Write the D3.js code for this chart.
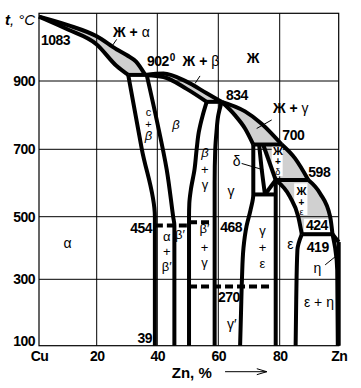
<!DOCTYPE html>
<html>
<head>
<meta charset="utf-8">
<script src="https://cdn.jsdelivr.net/npm/d3@7"></script>
<style>
  body { margin: 0; background: #fff; }
  text { font-family: "Liberation Sans", Arial, sans-serif; fill: #000; white-space: pre; }
</style>
</head>
<body>
<div id="chart"></div>
<script>
// axes
const xTickValues = [0, 20, 40, 60, 80, 100];
const xTickLabels = ["Cu", "20", "40", "60", "80", "Zn"];
const yTickValues = [900, 700, 500, 300, 100];
const xGrid = [20, 40, 60, 80];
const yGrid = [900, 700, 500, 300];

// phase boundaries as [Zn %, t °C]
const liquidusAlpha = [[0, 1090], [10, 1065], [20, 1032], [26.5, 994], [30, 976], [33, 957], [36, 918]];
const solidusAlpha = [[0, 1090], [10, 1052], [20, 1008], [26.5, 945], [30.4, 918]];
const liquidusBeta = [[36, 918], [42, 922], [49.6, 898], [56.2, 864], [61.1, 839]];
const solidusBeta = [[36.5, 917], [42, 912], [49.6, 877], [56.2, 839]];
const liquidusGamma = [[61.1, 839], [68.7, 811], [74.1, 775], [80.7, 714]];
const solidusGamma = [[61.1, 839], [65.4, 800], [68.7, 761], [71.4, 714]];
const liquidusDelta = [[80.7, 714], [85.2, 673], [89.7, 609]];
const liquidusEps = [[89.7, 609], [93.7, 569], [97.1, 500], [97.9, 444]];
const liquidusEta = [[97.9, 444], [100, 419]];
const solidusEps = [[78.7, 609], [83.5, 559], [86.3, 500], [87.5, 444]];
const deltaLeft = [[73.3, 714], [74.2, 636], [75.2, 566]];
const deltaRightTop = [[74.6, 714], [78.7, 609]];
const deltaRightLow = [[78.7, 609], [75.2, 566]];
const alphaSolvus = [[30.4, 918], [34.9, 700], [39.2, 500], [39.2, 100]];
const betaSolvus = [[36.5, 918], [39.8, 786], [43.1, 639], [45.2, 500], [45.6, 472], [45.6, 100]];
const betaGammaLeft = [[56.2, 839], [54.9, 800], [53.6, 750], [52.9, 700], [52.2, 640], [51.0, 580], [50.5, 540], [50.4, 500], [50.4, 100]];
const betaGammaRight = [[61.1, 839], [60.0, 800], [59.4, 750], [59.0, 700], [58.8, 600], [58.8, 100]];
const gammaEps = [[71.4, 714], [71.4, 566], [70.5, 520], [69.2, 470], [68.2, 400], [67.7, 300], [67.4, 200], [67.1, 100]];
const epsLeft = [[78.7, 609], [78.7, 100]];
const epsSolvus = [[87.5, 444], [86.0, 394], [85.6, 238], [85.4, 100]];
const etaSolvus = [[97.9, 444], [98.8, 400], [99.5, 330], [99.7, 100]];
const zincEdge = [[100, 419], [100, 100]];
const iso902 = [[30.4, 918], [36.5, 918]];
const iso834 = [[56.2, 839], [61.1, 839]];
const iso700 = [[71.4, 714], [80.7, 714]];
const iso598 = [[78.7, 609], [89.7, 609]];
const iso560 = [[71.4, 566], [78.7, 566]];
const iso424 = [[87.5, 444], [97.9, 444]];
// ordering lines (dashed)
const order454 = [[39.2, 472], [50.4, 472]];
const order468 = [[50.4, 482], [58.8, 482]];
const order270 = [[50.4, 278], [77.2, 278]];

// temperature / composition labels
const numLabels = [
  ["1083", 0.7, 1006, "start"], ["834", 62.5, 844, "start"], ["700", 80.9, 727, "start"],
  ["598", 89.7, 618, "start"], ["424", 88.9, 456, "start"], ["419", 89.2, 387, "start"],
  ["468", 60.6, 451, "start"], ["270", 59.9, 232, "start"], ["454", 38.3, 448, "end"],
  ["39", 38.3, 108, "end"]
];
// liquid region labels
const liqLabels = [
  ["Ж + α", 25.4, 1031], ["Ж + β", 48.3, 944], ["Ж + γ", 77.8, 806]
];
// phase labels (centred)
const phaseLabels = [
  ["Ж", 71.3, 953, "b"],
  ["α", 9.9, 400, "g"],
  ["c", 37.1, 798, "c"], ["+", 37.1, 763, "c"], ["β", 37.1, 726, "i"],
  ["β", 46.1, 759, "i"],
  ["β", 55.6, 676, "i"], ["+", 55.6, 626, "k"], ["γ", 55.6, 583, "k"],
  ["γ", 64.1, 561, "g"], ["δ", 66.0, 649, "g"],
  ["α", 43.1, 421, "k"], ["+", 43.1, 373, "k"], ["β′", 43.1, 328, "k"],
  ["β′", 47.4, 428, "k"],
  ["β′", 55.5, 448, "k"], ["+", 55.5, 388, "k"], ["γ", 55.5, 338, "k"],
  ["γ", 74.4, 440, "k"], ["+", 74.4, 386, "k"], ["ε", 74.4, 336, "k"],
  ["γ′", 64.4, 150, "g"], ["ε", 83.6, 397, "g"], ["η", 92.8, 320, "g"],
  ["ε + η", 93.3, 217, "g"],
  ["Ж", 79.4, 682, "s"], ["+", 79.4, 653, "u"], ["δ", 79.4, 624, "t"],
  ["Ж", 87.4, 563, "s"], ["+", 87.4, 532, "u"], ["ε", 87.4, 505, "t"]
];
const leaders = [
  [[26.6, 1023], [24.9, 1001]], [[54.0, 915], [52.4, 893]], [[77.4, 786], [72.5, 761]],
  [[67.6, 658], [74.7, 639]], [[95.4, 346], [98.8, 372]]
];
// white patches behind labels inside two-phase fields: [x0, x1, tTop, tBottom]
const whiteBoxes = [[77.4, 81.0, 712, 620], [84.9, 89.4, 599, 505], [88.2, 97.1, 493, 451]];

const W = 361, H = 388;
const svg = d3.select("#chart").append("svg").attr("width", W).attr("height", H);

const x = d3.scaleLinear().domain([0, 20, 40, 60, 80, 100]).range([39, 96.7, 157.3, 218.3, 279.7, 338.7]);
const y = d3.scaleLinear().domain([100, 300, 500, 700, 900, 1100]).range([345.7, 279.3, 216.7, 149.3, 81, 13.3]);

const lineX = d3.line().x(d => x(d[0])).y(d => y(d[1])).curve(d3.curveMonotoneX);
const lineY = d3.line().x(d => x(d[0])).y(d => y(d[1])).curve(d3.curveMonotoneY);
const lineL = d3.line().x(d => x(d[0])).y(d => y(d[1]));

const gGray = svg.append("g");
const gGrid = svg.append("g");
const gWhite = svg.append("g");
const gLines = svg.append("g");
const gText = svg.append("g");

// grid + frame
gGrid.selectAll(".gx").data(xGrid).enter().append("line")
  .attr("x1", d => x(d)).attr("x2", d => x(d)).attr("y1", y(1100)).attr("y2", y(100))
  .attr("stroke", "#000").attr("stroke-width", 1);
gGrid.selectAll(".gy").data(yGrid).enter().append("line")
  .attr("x1", x(0)).attr("x2", x(100)).attr("y1", d => y(d)).attr("y2", d => y(d))
  .attr("stroke", "#000").attr("stroke-width", 1);
gGrid.append("rect")
  .attr("x", x(0)).attr("y", y(1100)).attr("width", x(100) - x(0)).attr("height", y(100) - y(1100))
  .attr("fill", "none").attr("stroke", "#000").attr("stroke-width", 1.2);

// white label patches
gWhite.selectAll("rect").data(whiteBoxes).enter().append("rect")
  .attr("x", d => x(d[0])).attr("y", d => y(d[2]))
  .attr("width", d => x(d[1]) - x(d[0])).attr("height", d => y(d[3]) - y(d[2]))
  .attr("fill", "#fff");

// phase boundaries
const boundaries = [
  [liquidusAlpha, lineX], [solidusAlpha, lineX], [liquidusBeta, lineX], [solidusBeta, lineX],
  [liquidusGamma, lineX], [solidusGamma, lineX], [liquidusDelta, lineX], [liquidusEps, lineX],
  [liquidusEta, lineL], [solidusEps, lineX],
  [deltaLeft, lineY], [deltaRightTop, lineL], [deltaRightLow, lineL],
  [alphaSolvus, lineY], [betaSolvus, lineY], [betaGammaLeft, lineY], [betaGammaRight, lineY],
  [gammaEps, lineY], [epsLeft, lineL], [epsSolvus, lineY], [etaSolvus, lineY], [zincEdge, lineL],
  [iso902, lineL], [iso834, lineL], [iso700, lineL], [iso598, lineL], [iso560, lineL], [iso424, lineL]
];
gLines.selectAll("path.b").data(boundaries).enter().append("path")
  .attr("class", "b")
  .attr("d", d => d[1](d[0]))
  .attr("fill", "none").attr("stroke", "#000").attr("stroke-width", 4)
  .attr("stroke-linejoin", "round");

gLines.selectAll("path.o").data([order454, order468, order270]).enter().append("path")
  .attr("class", "o")
  .attr("d", lineL)
  .attr("fill", "none").attr("stroke", "#000").attr("stroke-width", 4)
  .attr("stroke-dasharray", "8,4");

// two-phase fields with liquid, filled grey
const probe = svg.append("path").attr("fill", "none").attr("stroke", "none");
function sample(d) {
  const p = probe.attr("d", d).node();
  const len = p.getTotalLength(), pts = [];
  for (let i = 0; i < len; i += 1) { const q = p.getPointAtLength(i); pts.push([q.x, q.y]); }
  const q = p.getPointAtLength(len); pts.push([q.x, q.y]);
  return pts;
}
const fields = [
  [liquidusAlpha, lineX, solidusAlpha, lineX],
  [liquidusBeta, lineX, solidusBeta, lineX],
  [liquidusGamma, lineX, solidusGamma, lineX],
  [liquidusDelta, lineX, deltaRightTop, lineL],
  [liquidusEps, lineX, solidusEps, lineX]
];
gGray.selectAll("polygon").data(fields).enter().append("polygon")
  .attr("points", f => sample(f[1](f[0])).concat(sample(f[3](f[2])).reverse()).map(p => p.join(",")).join(" "))
  .attr("fill", "#d0d0d0");
probe.remove();

// leaders
gText.selectAll("path.l").data(leaders).enter().append("path")
  .attr("d", lineL).attr("stroke", "#000").attr("stroke-width", 1).attr("fill", "none");

// axes
const xAxis = svg.append("g").attr("transform", `translate(0,${y(100)})`)
  .call(d3.axisBottom(x).tickValues(xTickValues).tickFormat((d, i) => xTickLabels[i]).tickSize(0).tickPadding(5));
xAxis.select(".domain").remove();
xAxis.selectAll("text").attr("font-size", 14).attr("font-weight", "bold").attr("letter-spacing", -0.5);

const yAxis = svg.append("g").attr("transform", `translate(${x(0)},0)`)
  .call(d3.axisLeft(y).tickValues(yTickValues).tickSize(0).tickPadding(4));
yAxis.select(".domain").remove();
yAxis.selectAll("text").attr("font-size", 14).attr("font-weight", "bold").attr("letter-spacing", -0.5)
  .attr("dy", d => d === 100 ? "-0.05em" : "0.32em");

// axis titles
const tTitle = svg.append("text").attr("x", x(0) - 34).attr("y", y(1100) + 12).attr("font-size", 15).attr("font-style", "italic");
tTitle.append("tspan").text("t").attr("font-weight", "bold");
tTitle.append("tspan").text(", °C");

svg.append("text").attr("x", x(51.3)).attr("y", y(100) + 32)
  .attr("text-anchor", "middle").attr("font-size", 15).attr("font-weight", "bold").text("Zn, %");
const ax0 = x(62.2), ax1 = x(75.8), ay = y(100) + 26;
svg.append("path").attr("d", `M${ax0},${ay}H${ax1}M${ax1 - 10},${ay - 3}L${ax1},${ay}L${ax1 - 10},${ay + 3}`)
  .attr("stroke", "#000").attr("stroke-width", 1).attr("fill", "none");

// number labels
gText.selectAll("text.n").data(numLabels).enter().append("text")
  .attr("class", "n")
  .attr("x", d => x(d[1])).attr("y", d => y(d[2]))
  .attr("text-anchor", d => d[3])
  .attr("font-size", 14).attr("font-weight", "bold").attr("letter-spacing", -0.5)
  .text(d => d[0]);

const t902 = gText.append("text").attr("x", x(36.6)).attr("y", y(943))
  .attr("font-size", 14).attr("font-weight", "bold").attr("letter-spacing", -0.5);
t902.append("tspan").text("902");
t902.append("tspan").text("0").attr("font-size", 10).attr("dy", -5).attr("dx", 1);

// liquid field labels: Cyrillic and plus bold, Greek regular
function runs(sel, str) {
  str.match(/[\u0370-\u03ff]+|[^\u0370-\u03ff]+/g).forEach(r => {
    sel.append("tspan").text(r).attr("font-weight", /[\u0370-\u03ff]/.test(r) ? "normal" : "bold");
  });
}
gText.selectAll("text.q").data(liqLabels).enter().append("text")
  .attr("class", "q")
  .attr("x", d => x(d[1])).attr("y", d => y(d[2]))
  .attr("font-size", 14)
  .each(function (d) { runs(d3.select(this), d[0]); });

const kindStyle = {
  b: { size: 14, weight: "bold", style: "normal" },
  g: { size: 14, weight: "normal", style: "normal" },
  k: { size: 13, weight: "normal", style: "normal" },
  c: { size: 11, weight: "normal", style: "normal" },
  i: { size: 13, weight: "normal", style: "italic" },
  s: { size: 11, weight: "bold", style: "normal" },
  u: { size: 10, weight: "bold", style: "normal" },
  t: { size: 9, weight: "normal", style: "normal" }
};
gText.selectAll("text.p").data(phaseLabels).enter().append("text")
  .attr("class", "p")
  .attr("x", d => x(d[1])).attr("y", d => y(d[2]))
  .attr("text-anchor", "middle")
  .attr("font-size", d => kindStyle[d[3]].size)
  .attr("font-weight", d => kindStyle[d[3]].weight)
  .attr("font-style", d => kindStyle[d[3]].style)
  .text(d => d[0]);
</script>
</body>
</html>
